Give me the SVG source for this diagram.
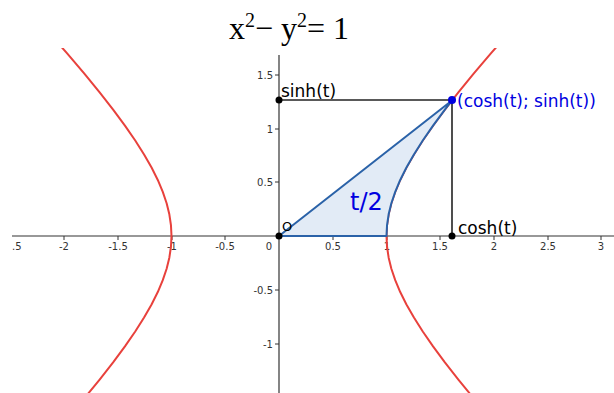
<svg xmlns="http://www.w3.org/2000/svg" width="614" height="393" viewBox="0 0 614 393">
<style>
.tick{font-family:"DejaVu Sans",sans-serif;font-size:10px;fill:#333}
.lbl{font-family:"DejaVu Sans",sans-serif;font-size:17px;fill:#000}
.blue{fill:#0000e0}
.axis{stroke:#333;stroke-width:1.2;fill:none}
.hyp{fill:none;stroke:#e8413c;stroke-width:2;vector-effect:non-scaling-stroke;stroke-linejoin:round}
</style>
<defs>
<clipPath id="plot"><rect x="12" y="48" width="602" height="345"/></clipPath>
</defs>
<rect width="614" height="393" fill="#fff"/>
<text x="289" y="39" text-anchor="middle" font-family="Liberation Serif,serif" font-size="32" fill="#000">x<tspan font-size="20" dy="-12">2</tspan><tspan dy="12">− y</tspan><tspan font-size="20" dy="-12">2</tspan><tspan dy="12">= 1</tspan></text>
<g id="axes">
<line class="axis" x1="12" y1="236" x2="614" y2="236"/>
<line class="axis" x1="279" y1="55" x2="279" y2="393"/>
<g stroke="#333" stroke-width="1">
<line x1="64" y1="236" x2="64" y2="240"/><line x1="118" y1="236" x2="118" y2="240"/><line x1="172" y1="236" x2="172" y2="240"/><line x1="225" y1="236" x2="225" y2="240"/>
<line x1="333" y1="236" x2="333" y2="240"/><line x1="387" y1="236" x2="387" y2="240"/><line x1="440" y1="236" x2="440" y2="240"/><line x1="494" y1="236" x2="494" y2="240"/><line x1="548" y1="236" x2="548" y2="240"/><line x1="601" y1="236" x2="601" y2="240"/>
<line x1="275" y1="75" x2="279" y2="75"/><line x1="275" y1="129" x2="279" y2="129"/><line x1="275" y1="182" x2="279" y2="182"/><line x1="275" y1="290" x2="279" y2="290"/><line x1="275" y1="344" x2="279" y2="344"/>
</g>
<g class="tick" text-anchor="middle">
<text x="12" y="250" text-anchor="start">.5</text>
<text x="64" y="250">-2</text><text x="118" y="250">-1.5</text><text x="172" y="250">-1</text><text x="225" y="250">-0.5</text>
<text x="269" y="250">0</text>
<text x="333" y="250">0.5</text><text x="387" y="250">1</text><text x="440" y="250">1.5</text><text x="494" y="250">2</text><text x="548" y="250">2.5</text><text x="601" y="250">3</text>
</g>
<g class="tick" text-anchor="end">
<text x="273" y="79">1.5</text><text x="273" y="133">1</text><text x="273" y="186">0.5</text><text x="273" y="294">-0.5</text><text x="273" y="348">-1</text>
</g>
</g>
<g id="hyperbola" clip-path="url(#plot)">
<g transform="matrix(107.5 0 0 -107.5 279 236)">
<polyline id="rb" class="hyp" points="2.3524,-2.1293 2.1509,-1.9043 1.9709,-1.6984 1.8107,-1.5095 1.6685,-1.3356 1.5431,-1.1752 1.4331,-1.0265 1.3374,-0.8881 1.2552,-0.7586 1.1855,-0.6367 1.1276,-0.5211 1.0811,-0.4108 1.0453,-0.3045 1.0201,-0.2013 1.0050,-0.1002 1,0 1.0050,0.1002 1.0201,0.2013 1.0453,0.3045 1.0811,0.4108 1.1276,0.5211 1.1855,0.6367 1.2552,0.7586 1.3374,0.8881 1.4331,1.0265 1.5431,1.1752 1.6685,1.3356 1.8107,1.5095 1.9709,1.6984 2.1509,1.9043 2.3524,2.1293"/>
<polyline class="hyp" points="-2.3524,-2.1293 -2.1509,-1.9043 -1.9709,-1.6984 -1.8107,-1.5095 -1.6685,-1.3356 -1.5431,-1.1752 -1.4331,-1.0265 -1.3374,-0.8881 -1.2552,-0.7586 -1.1855,-0.6367 -1.1276,-0.5211 -1.0811,-0.4108 -1.0453,-0.3045 -1.0201,-0.2013 -1.0050,-0.1002 -1,0 -1.0050,0.1002 -1.0201,0.2013 -1.0453,0.3045 -1.0811,0.4108 -1.1276,0.5211 -1.1855,0.6367 -1.2552,0.7586 -1.3374,0.8881 -1.4331,1.0265 -1.5431,1.1752 -1.6685,1.3356 -1.8107,1.5095 -1.9709,1.6984 -2.1509,1.9043 -2.3524,2.1293"/>
</g>
</g>
<g id="sector">
<g transform="matrix(107.5 0 0 -107.5 279 236)">
<polygon points="0,0 1.609,1.2606 1.5431,1.1752 1.4331,1.0265 1.3374,0.8881 1.2552,0.7586 1.1855,0.6367 1.1276,0.5211 1.0811,0.4108 1.0453,0.3045 1.0201,0.2013 1.0050,0.1002 1,0" fill="#dfe9f5" fill-opacity="0.9" stroke="#2a62a8" stroke-width="2" stroke-linejoin="round" vector-effect="non-scaling-stroke"/>
</g>
</g>
<g id="connectors" stroke="#222" stroke-width="1.6" fill="none">
<line x1="279" y1="100" x2="452" y2="100"/>
<line x1="452" y1="100" x2="452" y2="236"/>
</g>
<g id="points">
<circle cx="279" cy="100" r="3.5" fill="#000"/>
<circle cx="279" cy="236" r="3.5" fill="#000"/>
<circle cx="452" cy="236" r="3.5" fill="#000"/>
<circle cx="452" cy="100" r="4" fill="#0000e0"/>
</g>
<g id="labels">
<text class="lbl" x="281" y="97">sinh(t)</text>
<text class="lbl blue" x="457" y="107">(cosh(t); sinh(t))</text>
<text class="lbl" x="458" y="234">cosh(t)</text>
<text x="282" y="231" font-family="DejaVu Sans,sans-serif" font-size="13" fill="#000">O</text>
<text x="350" y="210" font-family="DejaVu Sans,sans-serif" font-size="24" fill="#0000e0">t/2</text>
</g>
</svg>
